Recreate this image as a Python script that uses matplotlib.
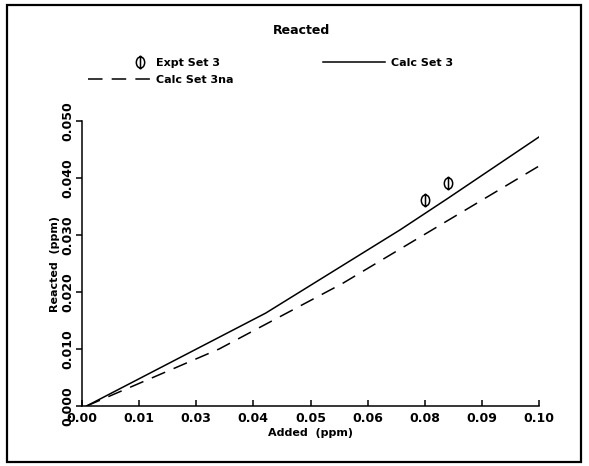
import numpy as np
import matplotlib
matplotlib.use("Agg")
import matplotlib.pyplot as plt
from matplotlib.path import Path
from matplotlib.transforms import Affine2D
from matplotlib.patches import Rectangle
from matplotlib.legend_handler import HandlerLine2D

# ---------------- data ----------------
expt3_x = [0.075, 0.080]
expt3_y = [0.0361, 0.0392]

calc3_x = [0.001, 0.0402, 0.0696, 0.080, 0.100]
calc3_y = [0.0, 0.0163, 0.0309, 0.0364, 0.0472]

calc3na_x = [0.001, 0.030, 0.057, 0.100]
calc3na_y = [0.0, 0.0100, 0.0215, 0.0421]

x_ticks = [0.0, 0.0125, 0.025, 0.0375, 0.05, 0.0625, 0.075, 0.0875, 0.1]
x_tick_labels = ["0.00", "0.01", "0.03", "0.04", "0.05", "0.06", "0.08", "0.09", "0.10"]
y_ticks = [0.0, 0.01, 0.02, 0.03, 0.04, 0.05]
y_tick_labels = ["0.000", "0.010", "0.020", "0.030", "0.040", "0.050"]

# ---------------- style ----------------
W, H = 589, 466
fig = plt.figure(figsize=(W / 100, H / 100), dpi=100)
FONT = "DejaVu Sans"

def fx(px):
    return px / W

def fy(py):
    return 1 - py / H

ax = fig.add_axes([fx(82), fy(406), fx(539) - fx(82), fy(121) - fy(406)])

# Phi-shaped marker: ellipse with vertical bar
circ = Path.unit_circle().transformed(Affine2D().scale(0.75, 1.0))
bar = Path([(0, -1.25), (0, 1.25)], [Path.MOVETO, Path.LINETO])
phi = Path.make_compound_path(circ, bar)

h_expt, = ax.plot(expt3_x, expt3_y, linestyle="none", marker=phi, markersize=10,
                  markerfacecolor="none", markeredgecolor="black", markeredgewidth=1.1,
                  label="Expt Set 3")
h_calc, = ax.plot(calc3_x, calc3_y, color="black", lw=1.1, label="Calc Set 3")
h_na, = ax.plot(calc3na_x, calc3na_y, color="black", lw=1.1, linestyle=(0, (9.5, 6.0)),
                label="Calc Set 3na")

ax.set_xlim(0, 0.1)
ax.set_ylim(0, 0.05)
ax.set_xticks(x_ticks)
ax.set_xticklabels(x_tick_labels)
ax.set_yticks(y_ticks)
ax.set_yticklabels(y_tick_labels, rotation=90, va="center")

for s in ["top", "right"]:
    ax.spines[s].set_visible(False)
for s in ["left", "bottom"]:
    ax.spines[s].set_linewidth(1.1)

ax.tick_params(axis="x", direction="in", length=4.5, width=1.1, pad=4.5,
               labelsize=9)
ax.tick_params(axis="y", direction="out", length=4.5, width=1.1, pad=1.0,
               labelsize=9)
for lab in ax.get_xticklabels() + ax.get_yticklabels():
    lab.set_fontweight("bold")
    lab.set_family(FONT)

ax.set_xlabel("Added  (ppm)", fontsize=8, fontweight="bold", family=FONT, labelpad=2)
ax.set_ylabel("Reacted  (ppm)", fontsize=8, fontweight="bold", family=FONT, labelpad=1)

fig.text(fx(302), fy(31), "Reacted", ha="center", va="center", fontsize=9,
         fontweight="bold", family=FONT)


class HandlerRightMarker(HandlerLine2D):
    # single marker placed near the right end of the handle area
    def get_xdata(self, legend, xdescent, ydescent, width, height, fontsize):
        xdata = np.array([-xdescent + 0.66 * width, -xdescent + width])
        return xdata, np.array([-xdescent + 0.83 * width])


leg = fig.legend(handles=[h_expt, h_na, h_calc],
                 labels=["Expt Set 3", "Calc Set 3na", "Calc Set 3"],
                 ncol=2, loc="upper left", bbox_to_anchor=(fx(88), fy(58)),
                 bbox_transform=fig.transFigure, frameon=False, borderpad=0,
                 handlelength=5.6, handletextpad=0.55, columnspacing=8.0,
                 labelspacing=0.6, borderaxespad=0, numpoints=1,
                 prop={"family": FONT, "weight": "bold", "size": 8},
                 handler_map={h_expt: HandlerRightMarker()})

fig.add_artist(Rectangle((fx(7), fy(462)), fx(581) - fx(7), fy(5) - fy(462),
                         transform=fig.transFigure, fill=False, lw=1.6,
                         edgecolor="black"))

fig.savefig("out.png", dpi=100)
